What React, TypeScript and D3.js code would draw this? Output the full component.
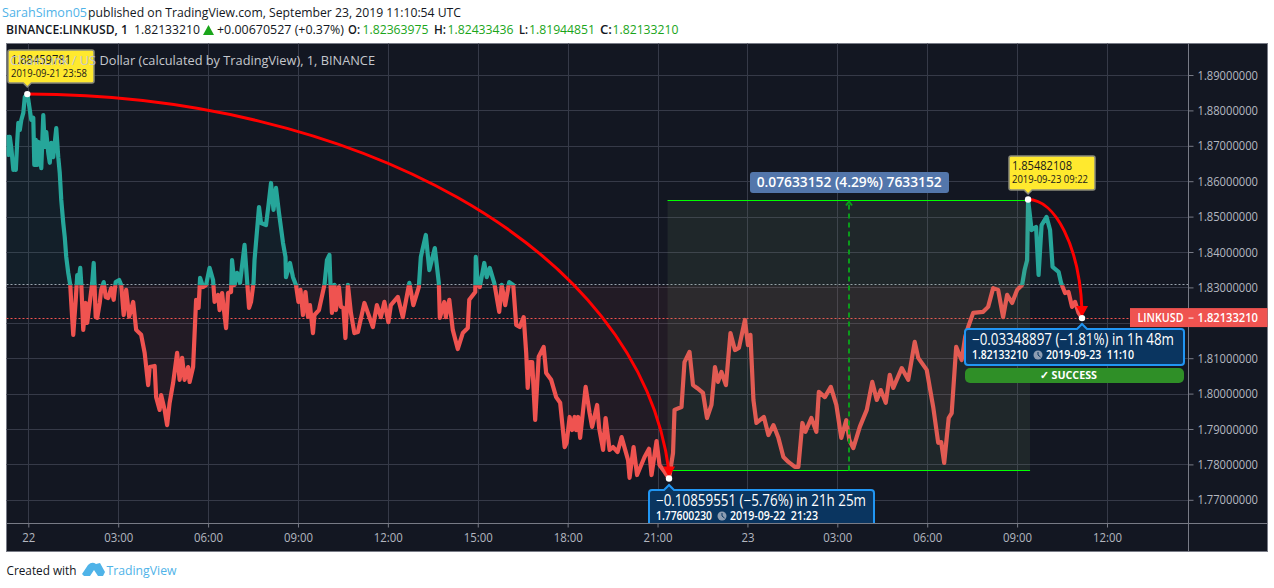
import { useEffect, useRef } from "react";
import * as d3 from "d3";

type Close = [number, number];

// minutes since 2019-09-22 00:00, close price
const lateSep21: Close[] = [
  [-42, 1.8731], [-40, 1.8674], [-37, 1.8725], [-34, 1.8694], [-30, 1.8632], [-27, 1.8654], [-25, 1.8632],
  [-22, 1.8717], [-20, 1.8765], [-17, 1.8745], [-14, 1.8773], [-10, 1.8793], [-7, 1.8838], [-2, 1.8846],
];
const earlyHours: Close[] = [
  [0, 1.883], [3, 1.8801], [6, 1.8773], [10, 1.8779], [12, 1.8646], [15, 1.8717], [18, 1.8646], [20, 1.8711],
  [23, 1.8688], [26, 1.8637], [30, 1.8787], [33, 1.8697], [36, 1.8739], [40, 1.868], [43, 1.8652], [46, 1.8708],
  [50, 1.8668], [56, 1.875], [60, 1.8668], [63, 1.8623], [66, 1.8547], [70, 1.8482], [73, 1.8442], [76, 1.8386],
  [80, 1.8341], [84, 1.8307], [86, 1.8256], [90, 1.8166], [95, 1.8265], [98, 1.8335], [100, 1.8313], [104, 1.8355],
  [106, 1.8313], [110, 1.818], [115, 1.8256], [118, 1.82], [123, 1.8256], [128, 1.8313], [131, 1.8369], [135, 1.8216],
  [138, 1.8214], [143, 1.8256], [146, 1.8293], [151, 1.8315], [155, 1.8273], [160, 1.827], [166, 1.8298], [171, 1.8265],
  [175, 1.8315], [182, 1.8321], [186, 1.8307], [191, 1.8222], [196, 1.8293], [202, 1.8217], [210, 1.8259], [216, 1.818],
  [226, 1.8166], [233, 1.8115], [240, 1.8024], [243, 1.8075], [253, 1.8078], [256, 1.799], [263, 1.7954], [266, 1.7996],
  [273, 1.7954], [278, 1.7911], [283, 1.7974], [290, 1.803], [298, 1.8115], [303, 1.8039], [308, 1.8101], [313, 1.8039],
  [320, 1.8075], [323, 1.8033], [330, 1.8075], [336, 1.8265], [341, 1.8242], [344, 1.8327], [350, 1.8301], [356, 1.8307],
];
const morning: Close[] = [
  [363, 1.8355], [370, 1.8321], [373, 1.8259], [380, 1.8279], [383, 1.8236], [388, 1.8284], [391, 1.8245], [396, 1.8185],
  [400, 1.8284], [406, 1.8287], [408, 1.8377], [413, 1.8307], [418, 1.8341], [424, 1.8313], [433, 1.842], [438, 1.8321],
  [442, 1.8242], [446, 1.8259], [451, 1.8313], [453, 1.8377], [462, 1.8527], [466, 1.8482], [476, 1.8476], [481, 1.8533],
  [486, 1.8595], [491, 1.8519], [496, 1.8581], [502, 1.851], [510, 1.8426], [515, 1.8386], [516, 1.8329], [524, 1.8369],
  [530, 1.8329], [536, 1.8307], [541, 1.8259], [545, 1.8293], [550, 1.8222], [555, 1.8287], [560, 1.8217], [564, 1.825],
  [570, 1.8171], [573, 1.8222], [582, 1.8236], [593, 1.8307], [598, 1.8377], [603, 1.8392], [605, 1.8313], [608, 1.8228],
  [613, 1.8307], [616, 1.8236], [622, 1.8301], [626, 1.8245], [631, 1.8242], [635, 1.8157], [640, 1.8307], [646, 1.8228],
  [653, 1.8171], [660, 1.8174], [673, 1.8256], [683, 1.8216], [690, 1.8188], [698, 1.825], [706, 1.8216], [713, 1.8259],
];
const afternoon: Close[] = [
  [721, 1.8202], [726, 1.825], [740, 1.8273], [750, 1.8216], [763, 1.8313], [771, 1.825], [782, 1.8301], [786, 1.8386],
  [796, 1.8448], [803, 1.8349], [814, 1.8411], [822, 1.8313], [824, 1.8214], [833, 1.8259], [836, 1.8216], [843, 1.8265],
  [850, 1.818], [860, 1.8126], [870, 1.8171], [880, 1.8185], [883, 1.8265], [895, 1.8287], [896, 1.8386], [900, 1.8313],
  [904, 1.8301], [913, 1.8369], [918, 1.8329], [924, 1.8355], [933, 1.8313], [943, 1.8231], [948, 1.8307], [955, 1.825],
  [963, 1.8315], [971, 1.8307], [977, 1.8194], [984, 1.8188], [992, 1.8216], [997, 1.8115], [1000, 1.8016], [1004, 1.8089],
  [1009, 1.8089], [1015, 1.7926], [1022, 1.8104], [1032, 1.8132], [1037, 1.8058], [1047, 1.8039], [1057, 1.799], [1065, 1.7974],
];
const evening: Close[] = [
  [1074, 1.7849], [1078, 1.7861], [1084, 1.7934], [1089, 1.7897], [1094, 1.7934], [1097, 1.7897], [1101, 1.7934], [1105, 1.7875],
  [1116, 1.8019], [1124, 1.7945], [1129, 1.7906], [1139, 1.7968], [1143, 1.7903], [1151, 1.7841], [1156, 1.7931], [1164, 1.7841],
  [1171, 1.7849], [1180, 1.7835], [1188, 1.7877], [1201, 1.7812], [1204, 1.7762], [1212, 1.7849], [1219, 1.777], [1234, 1.7821],
  [1243, 1.7844], [1248, 1.777], [1258, 1.7866], [1264, 1.7798], [1274, 1.7779], [1283, 1.776], [1291, 1.7832], [1294, 1.7954],
  [1308, 1.7962], [1314, 1.8089], [1324, 1.8118], [1331, 1.8024], [1339, 1.8016], [1351, 1.8002], [1359, 1.7931], [1368, 1.7968],
  [1375, 1.8075], [1381, 1.8033], [1388, 1.8061], [1397, 1.8024], [1406, 1.8171], [1415, 1.8123], [1423, 1.8129], [1435, 1.8208],
];
const sep23Night: Close[] = [
  [1441, 1.8137], [1446, 1.8166], [1452, 1.7982], [1458, 1.7917], [1473, 1.7934], [1482, 1.7883], [1492, 1.7911], [1502, 1.7875],
  [1512, 1.7821], [1522, 1.7807], [1535, 1.7793], [1542, 1.7793], [1550, 1.7917], [1556, 1.7892], [1568, 1.7931], [1578, 1.7892],
  [1583, 1.8005], [1595, 1.799], [1607, 1.8019], [1618, 1.7968], [1628, 1.7875], [1638, 1.7925], [1644, 1.7869], [1652, 1.7846],
  [1665, 1.7906], [1679, 1.7954], [1690, 1.8033], [1699, 1.7982], [1707, 1.801], [1717, 1.7974], [1725, 1.8053], [1732, 1.8016],
  [1749, 1.8072], [1762, 1.8039], [1775, 1.8146], [1782, 1.8101], [1799, 1.8067], [1812, 1.7962], [1822, 1.7861], [1828, 1.7863],
];
const sep23Morning: Close[] = [
  [1834, 1.7804], [1843, 1.7931], [1849, 1.7945], [1858, 1.8132], [1869, 1.8095], [1876, 1.816], [1882, 1.8188], [1892, 1.8228],
  [1912, 1.8231], [1922, 1.8245], [1932, 1.8298], [1942, 1.8293], [1952, 1.8216], [1960, 1.8279], [1970, 1.8256], [1980, 1.8293],
  [1990, 1.8307], [1995, 1.8349], [2000, 1.8377], [2002, 1.85482108], [2009, 1.8462], [2018, 1.8471], [2023, 1.8335], [2029, 1.8476],
  [2039, 1.8499], [2046, 1.8462], [2051, 1.8358], [2063, 1.8344], [2068, 1.8313], [2076, 1.8284], [2083, 1.8287], [2090, 1.8245],
  [2096, 1.8259], [2103, 1.8228], [2110, 1.8213321],
];

const priceTicks = [1.77, 1.78, 1.79, 1.8, 1.81, 1.82, 1.83, 1.84, 1.85, 1.86, 1.87, 1.88, 1.89];
const timeTicks = [0, 180, 360, 540, 720, 900, 1080, 1260, 1440, 1620, 1800, 1980, 2160];
const timeLabels = ["22", "03:00", "06:00", "09:00", "12:00", "15:00", "18:00", "21:00", "23", "03:00", "06:00", "09:00", "12:00"];

const prevClose = 1.8306;
const lastPrice = 1.8213321;
const peakStart: Close = [-2, 1.88459781];
const troughEnd: Close = [1283, 1.7760023];
const peakLate: Close = [2002, 1.85482108];
const lastPoint: Close = [2110, 1.8213321];
const rangeTop = 1.85482108;
const rangeBottom = 1.77848956;
const rangeStart = 1280;
const rangeEnd = 2006;

const FONT = "'Open Sans', sans-serif";
const W = 1274;
const H = 588;

export default function App() {
  const ref = useRef<SVGSVGElement | null>(null);

  useEffect(() => {
    if (!ref.current) return;
    const closes = [...lateSep21, ...earlyHours, ...morning, ...afternoon, ...evening, ...sep23Night, ...sep23Morning];

    const plot = { left: 6.5, right: 1188.5, top: 43.5, bottom: 523.5, frameRight: 1267.5, frameBottom: 551.5 };
    const x = d3.scaleLinear().domain([0, 2160]).range([28.3, 1107]);
    const y = d3.scaleLinear().domain([1.77, 1.89]).range([499.8, 75]);
    const snap = (v: number) => Math.round(v) + 0.5;

    const root = d3.select(ref.current);
    root.selectAll("*").remove();
    const svg = root.attr("width", W).attr("height", H);

    svg.append("rect").attr("width", W).attr("height", H).attr("fill", "#fff");
    svg.append("rect").attr("x", plot.left).attr("y", plot.top)
      .attr("width", plot.frameRight - plot.left).attr("height", plot.frameBottom - plot.top)
      .attr("fill", "#131722").attr("stroke", "#787b86");

    const defs = svg.append("defs");
    const baseY = y(prevClose);
    const clip = (id: string, top: number, bottom: number) =>
      defs.append("clipPath").attr("id", id).append("rect")
        .attr("x", plot.left).attr("y", top).attr("width", plot.right - plot.left).attr("height", bottom - top);
    clip("above", plot.top, baseY);
    clip("below", baseY, plot.bottom);
    clip("plot", plot.top, plot.bottom);

    // grid
    const grid = svg.append("g").attr("stroke", "#363a48").attr("stroke-width", 1);
    grid.selectAll("line.h").data(priceTicks).join("line").attr("class", "h")
      .attr("x1", plot.left).attr("x2", plot.right)
      .attr("y1", (d) => snap(y(d))).attr("y2", (d) => snap(y(d)));
    grid.selectAll("line.v").data(timeTicks).join("line").attr("class", "v")
      .attr("y1", plot.top).attr("y2", plot.bottom)
      .attr("x1", (d) => snap(x(d))).attr("x2", (d) => snap(x(d)));

    // baseline series
    const area = d3.area<Close>().x((d) => x(d[0])).y0(baseY).y1((d) => y(d[1]));
    const line = d3.line<Close>().x((d) => x(d[0])).y((d) => y(d[1]));
    const sides = [
      { id: "above", fill: "rgba(38,166,154,0.06)", stroke: "#26a69a" },
      { id: "below", fill: "rgba(239,83,80,0.07)", stroke: "#ef5350" },
    ];
    sides.forEach((s) => {
      svg.append("path").datum(closes).attr("clip-path", `url(#${s.id})`).attr("d", area).attr("fill", s.fill);
    });

    svg.append("line").attr("x1", plot.left).attr("x2", plot.right).attr("y1", snap(baseY) - 1).attr("y2", snap(baseY) - 1)
      .attr("stroke", "#9aa3ad").attr("stroke-dasharray", "2 2");
    svg.append("line").attr("x1", plot.left).attr("x2", plot.right)
      .attr("y1", snap(y(lastPrice))).attr("y2", snap(y(lastPrice)))
      .attr("stroke", "#ef5350").attr("stroke-dasharray", "2 2");

    sides.forEach((s) => {
      svg.append("path").datum(closes).attr("clip-path", `url(#${s.id})`).attr("d", line)
        .attr("fill", "none").attr("stroke", s.stroke).attr("stroke-width", 4.2).attr("stroke-linejoin", "round");
    });

    // date and price range
    const rx0 = x(rangeStart), rx1 = x(rangeEnd), ry0 = snap(y(rangeTop)), ry1 = snap(y(rangeBottom));
    svg.append("rect").attr("x", rx0).attr("y", ry0).attr("width", rx1 - rx0).attr("height", ry1 - ry0)
      .attr("fill", "rgba(125,160,110,0.12)");
    [ry0, ry1].forEach((v) => {
      svg.append("line").attr("x1", rx0).attr("x2", rx1).attr("y1", v).attr("y2", v)
        .attr("stroke", "#00ff00").attr("stroke-width", 1);
    });
    const rxm = Math.round((rx0 + rx1) / 2);
    svg.append("line").attr("x1", rxm).attr("x2", rxm).attr("y1", ry1).attr("y2", ry0 + 2)
      .attr("stroke", "#0b9c1b").attr("stroke-width", 2).attr("stroke-dasharray", "5 4");
    svg.append("path").attr("d", `M${rxm - 3},${ry0 + 5}L${rxm},${ry0 + 1}L${rxm + 3},${ry0 + 5}`)
      .attr("fill", "none").attr("stroke", "#0b9c1b").attr("stroke-width", 2);

    // widths, the original font runs narrower than Open Sans
    const text = (parent: any, str: string, px: number, py: number, size: number, fill: string, len: number, weight: any = 400, anchor = "start") =>
      parent.append("text").attr("x", px).attr("y", py).attr("font-family", FONT).attr("font-size", size)
        .attr("font-weight", weight).attr("fill", fill).attr("text-anchor", anchor)
        .attr("textLength", len).attr("lengthAdjust", "spacingAndGlyphs").text(str);

    svg.append("rect").attr("x", 750).attr("y", 172).attr("width", 199).attr("height", 21).attr("rx", 3).attr("fill", "#5376ab");
    text(svg, "0.07633152 (4.29%) 7633152", 756.7, 187, 14, "#fff", 185, 600);

    // curved arrows, same shape for both
    const curve = (a: Close, b: Close) => {
      const ax = x(a[0]), ay = y(a[1]), bx = x(b[0]), by = y(b[1]);
      const p = d3.path();
      p.moveTo(ax, ay);
      p.bezierCurveTo(ax + (bx - ax) * 0.5, ay, ax + (bx - ax) * 0.955, ay + (by - ay) * 0.39, bx, by - 7);
      return p.toString();
    };
    const arrow = svg.append("g").attr("clip-path", "url(#plot)");
    [[peakStart, troughEnd], [peakLate, lastPoint]].forEach(([a, b]) => {
      arrow.append("path").attr("d", curve(a, b)).attr("fill", "none").attr("stroke", "#ff0000").attr("stroke-width", 3);
      const bx = x(b[0]), by = y(b[1]);
      arrow.append("path").attr("d", `M${bx - 6},${by - 12}L${bx + 6},${by - 12}L${bx},${by - 1}Z`).attr("fill", "#ff0000");
    });

    // yellow callouts
    const callout = (cx: number, left: number, top: number, w: number, h: number, l1: string, l2: string) => {
      svg.append("path")
        .attr("d", `M${left},${top + 2}q0,-2 2,-2H${left + w - 2}q2,0 2,2V${top + h - 2}q0,2 -2,2H${cx + 4}L${cx},${top + h + 4}L${cx - 4},${top + h}H${left + 2}q-2,0 -2,-2Z`)
        .attr("fill", "#ffe92e").attr("stroke", "#8a8a7a").attr("stroke-width", 1.5);
      text(svg, l1, left + 3, top + 14, 13, "#1a1a1a", 60);
      text(svg, l2, left + 3, top + 27, 11, "#1a1a1a", 76);
    };
    callout(x(peakStart[0]), 8, 50, 86, 33, "1.88459781", "2019-09-21 23:58");
    callout(x(peakLate[0]), 1009, 156, 86, 34, "1.85482108", "2019-09-23 09:22");

    text(svg, "ChainLink / US Dollar (calculated by TradingView), 1, BINANCE", 10, 65, 13, "#c5c7cd", 365);

    // blue info boxes
    const clock = (g: any, cx: number, cy: number) => {
      g.append("circle").attr("cx", cx).attr("cy", cy).attr("r", 4.5).attr("fill", "#8d9db2");
      g.append("path").attr("d", `M${cx},${cy - 3}V${cy}L${cx + 2.5},${cy + 2}`).attr("fill", "none").attr("stroke", "#0a3560").attr("stroke-width", 1);
    };
    const info = (tipX: number, left: number, top: number, w: number, h: number, l1: string, l1Len: number, l2a: string, l2b: string) => {
      const g = svg.append("g").attr("clip-path", "url(#plot)");
      g.append("path")
        .attr("d", `M${left},${top + 3}q0,-3 3,-3H${tipX - 5}L${tipX},${top - 5}L${tipX + 5},${top}H${left + w - 3}q3,0 3,3V${top + h - 3}q0,3 -3,3H${left + 3}q-3,0 -3,-3Z`)
        .attr("fill", "#0a3560").attr("stroke", "#2196f3").attr("stroke-width", 2);
      text(g, l1, left + 7, top + 16, 15.5, "#fff", l1Len, 500);
      text(g, l2a, left + 7, top + 30, 12, "#fff", 56, 600);
      clock(g, left + 73, top + 26);
      text(g, l2b, left + 81, top + 30, 12, "#fff", 88, 600);
    };
    info(x(troughEnd[0]), 649, 490, 225, 46, "\u22120.10859551 (\u22125.76%) in 21h 25m", 210, "1.77600230", "2019-09-22\u00a0\u00a021:23");
    info(x(lastPoint[0]), 965, 329, 219, 36, "\u22120.03348897 (\u22121.81%) in 1h 48m", 202, "1.82133210", "2019-09-23\u00a0\u00a011:10");

    svg.append("rect").attr("x", 965).attr("y", 368).attr("width", 219).attr("height", 15).attr("rx", 5).attr("fill", "#2f8f27");
    text(svg, "\u2713 SUCCESS", 1040, 379, 11, "#fff", 57, 700);

    // markers
    [peakStart, troughEnd, peakLate, lastPoint].forEach((d) => {
      svg.append("circle").attr("cx", x(d[0])).attr("cy", y(d[1])).attr("r", 3.2).attr("fill", "#fff");
    });

    // axes, the 1.82 label sits behind the last price tag in the original
    const axisColor = "#787b86";
    const labelColor = "#b4b7c0";
    const priceLabel = d3.format(".8f");
    const yAxis = svg.append("g").attr("transform", `translate(${plot.right},0)`)
      .call(d3.axisRight(y).tickValues(priceTicks.filter((d) => d !== 1.82)).tickFormat(priceLabel as any).tickSize(5).tickPadding(4));
    yAxis.selectAll("path").attr("d", `M0,${plot.top}V${plot.frameBottom}`).attr("stroke", axisColor);
    yAxis.selectAll("line").attr("stroke", axisColor);
    yAxis.selectAll("text").attr("font-family", FONT).attr("font-size", 13).attr("fill", labelColor)
      .attr("textLength", 60.5).attr("lengthAdjust", "spacingAndGlyphs");

    const xAxis = svg.append("g").attr("transform", `translate(0,${plot.bottom})`)
      .call(d3.axisBottom(x).tickValues(timeTicks).tickFormat((_, i) => timeLabels[i]).tickSize(4).tickPadding(5));
    xAxis.selectAll("path").attr("d", `M${plot.left},0H${plot.frameRight}`).attr("stroke", axisColor);
    xAxis.selectAll("line").attr("stroke", axisColor);
    xAxis.selectAll("text").attr("font-family", FONT).attr("font-size", 13).attr("fill", labelColor)
      .attr("textLength", (_, i) => (timeLabels[i].length === 2 ? 13 : 29)).attr("lengthAdjust", "spacingAndGlyphs");

    // last price tag
    const tagY = y(lastPrice);
    svg.append("rect").attr("x", 1130).attr("y", tagY - 10).attr("width", 137.5).attr("height", 19).attr("fill", "#ef5350");
    svg.append("line").attr("x1", plot.right).attr("x2", plot.right + 5).attr("y1", tagY).attr("y2", tagY).attr("stroke", "#fff");
    text(svg, "LINKUSD", 1137.5, tagY + 4, 13, "#fff", 46, 600);
    text(svg, "1.82133210", 1197.5, tagY + 4, 13, "#fff", 60.5, 600);

    // header
    const ink = "#131722";
    const green = "#1aa51a";
    text(svg, "SarahSimon05", 2, 17, 13, "#4fb3e8", 85);
    text(svg, "published on TradingView.com, September 23, 2019 11:10:54 UTC", 88, 17, 13, ink, 373);
    text(svg, "BINANCE:LINKUSD, 1", 6, 34, 13, ink, 122, 600);
    text(svg, "1.82133210", 134, 34, 13, ink, 66);
    svg.append("path").attr("d", "M203,35L208.5,25L214,35Z").attr("fill", green);
    text(svg, "+0.00670527 (+0.37%)", 217, 34, 13, ink, 127);
    const ohlc: [string, number, string, number][] = [
      ["O:", 348, "1.82363975", 362.5], ["H:", 434, "1.82433436", 447.5], ["L:", 519, "1.81944851", 529], ["C:", 600, "1.82133210", 612.5],
    ];
    ohlc.forEach(([k, kx, v, vx]) => {
      text(svg, k, kx, 34, 13, ink, k === "L:" ? 9 : 12, 600);
      text(svg, v, vx, 34, 13, green, 66);
    });

    // footer
    text(svg, "Created with", 6.5, 575, 13, ink, 70);
    svg.append("path").attr("d", "M82,574L88,565Q92,561 96,564L100,563L105,572L103,576H98L94,570L90,576H84Z").attr("fill", "#4fb3e8");
    text(svg, "TradingView", 106.5, 575, 13, "#4fb3e8", 70);
  }, []);

  return <svg ref={ref} style={{ position: "fixed", top: 0, left: 0 }} />;
}
